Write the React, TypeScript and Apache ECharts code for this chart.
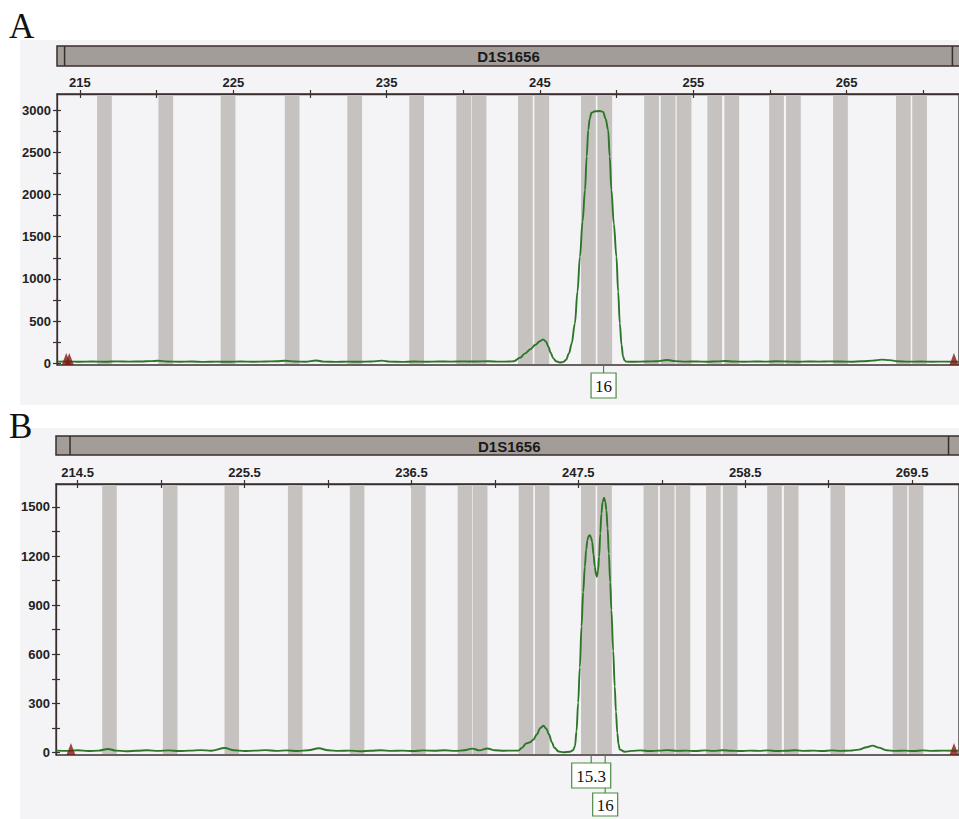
import React, { useEffect, useRef } from "react";
import * as echarts from "echarts";

// ---------- data ----------
const locusName = "D1S1656";
const locusRange = [214.0, 271.9];

const binCenters = [
  216.6, 220.6, 224.66, 228.84, 232.92, 236.96, 240.03, 241.03, 244.05, 245.12,
  248.16, 249.23, 252.28, 253.36, 254.4, 256.4, 257.51, 260.43, 261.53, 264.6,
  268.7, 269.76,
];
const binHalfWidth = 0.48;

const xTicksA = [215, 220, 225, 230, 235, 240, 245, 250, 255, 260, 265, 270];
const xLabelsA = [215, 225, 235, 245, 255, 265];
const yTicksA = [0, 250, 500, 750, 1000, 1250, 1500, 1750, 2000, 2250, 2500, 2750, 3000];
const yLabelsA = [0, 500, 1000, 1500, 2000, 2500, 3000];

const xTicksB = [214.5, 220, 225.5, 231, 236.5, 242, 247.5, 253, 258.5, 264, 269.5];
const xLabelsB = [214.5, 225.5, 236.5, 247.5, 258.5, 269.5];
const yTicksB = [0, 150, 300, 450, 600, 750, 900, 1050, 1200, 1350, 1500];
const yLabelsB = [0, 300, 600, 900, 1200, 1500];

const traceA: number[][] = [
  [213.55, 20], [214.2, 22], [215.0, 18], [215.8, 21], [216.6, 19], [217.4, 23], [218.2, 20],
  [219.0, 22], [219.6, 26], [220.1, 30], [220.7, 22], [221.5, 19], [222.3, 21], [223.1, 17],
  [223.9, 20], [224.7, 18], [225.5, 22], [226.3, 19], [227.1, 21], [227.8, 24], [228.4, 30],
  [229.0, 22], [229.7, 19], [230.4, 34], [230.9, 20], [231.7, 17], [232.5, 20], [233.3, 18],
  [234.0, 21], [234.7, 32], [235.2, 20], [236.0, 17], [236.8, 21], [237.6, 19], [238.4, 22],
  [239.2, 20], [240.0, 23], [240.8, 21], [241.6, 24], [242.4, 20], [243.0, 21], [243.3, 25],
  [243.7, 65], [244.03, 118], [244.4, 170], [244.68, 217], [245.0, 262], [245.22, 284],
  [245.4, 255], [245.55, 197], [245.7, 125], [245.87, 59], [246.05, 25], [246.31, 10],
  [246.5, 14], [246.7, 40], [246.9, 120], [247.07, 236], [247.28, 473], [247.45, 850],
  [247.61, 1263], [247.78, 1680], [247.94, 2052], [248.05, 2450], [248.15, 2763],
  [248.25, 2900], [248.36, 2968], [248.6, 2985], [248.9, 2988], [249.12, 2978],
  [249.28, 2900], [249.45, 2763], [249.55, 2450], [249.66, 2052], [249.82, 1650],
  [249.99, 1263], [250.1, 850], [250.21, 473], [250.32, 220], [250.42, 80], [250.52, 35],
  [250.62, 20], [251.2, 18], [251.9, 21], [252.6, 24], [253.3, 40], [253.8, 26], [254.5, 20],
  [255.2, 22], [255.9, 19], [256.6, 23], [257.1, 28], [257.6, 21], [258.3, 19], [259.0, 22],
  [259.7, 20], [260.4, 24], [261.1, 21], [261.8, 19], [262.5, 22], [263.2, 20], [263.9, 23],
  [264.6, 21], [265.3, 19], [266.0, 24], [266.7, 32], [267.3, 44], [267.8, 38], [268.3, 24],
  [269.0, 20], [269.8, 21], [270.6, 19], [271.4, 20], [272.3, 18],
];

const traceB: number[][] = [
  [213.1, 12], [213.8, 10], [214.5, 14], [215.2, 9], [215.9, 12], [216.5, 22], [217.0, 12],
  [217.7, 8], [218.4, 11], [219.1, 14], [219.8, 10], [220.5, 13], [221.2, 9], [221.9, 12],
  [222.6, 15], [223.3, 11], [224.2, 28], [224.8, 14], [225.5, 9], [226.2, 12], [226.9, 15],
  [227.6, 10], [228.3, 13], [229.0, 9], [229.7, 14], [230.4, 26], [231.0, 14], [231.7, 10],
  [232.4, 12], [233.1, 8], [233.8, 11], [234.5, 14], [235.2, 10], [235.9, 12], [236.6, 9],
  [237.3, 13], [238.0, 11], [238.7, 14], [239.4, 10], [240.0, 14], [240.5, 24], [241.0, 13],
  [241.5, 25], [242.0, 14], [242.6, 11], [243.1, 12], [243.55, 12], [243.8, 30], [244.05, 55],
  [244.32, 63], [244.55, 80], [244.76, 110], [245.0, 150], [245.2, 164], [245.4, 145],
  [245.57, 110], [245.75, 65], [245.92, 29], [246.2, 6], [246.5, 2], [246.95, 5],
  [247.15, 14], [247.28, 38], [247.38, 130], [247.49, 305], [247.6, 520], [247.71, 770],
  [247.82, 980], [247.93, 1135], [248.02, 1240], [248.1, 1297], [248.18, 1322],
  [248.26, 1328], [248.34, 1312], [248.41, 1287], [248.5, 1210], [248.59, 1135],
  [248.66, 1090], [248.72, 1074], [248.8, 1110], [248.87, 1196], [248.95, 1340],
  [249.02, 1460], [249.1, 1530], [249.2, 1557], [249.28, 1530], [249.35, 1480],
  [249.43, 1370], [249.51, 1216], [249.6, 1040], [249.68, 871], [249.8, 620], [249.9, 404],
  [249.98, 250], [250.07, 120], [250.15, 50], [250.23, 18], [250.56, 5], [251.0, 10],
  [251.6, 13], [252.2, 9], [252.8, 12], [253.4, 15], [254.0, 10], [254.6, 12], [255.2, 9],
  [255.8, 13], [256.4, 10], [257.0, 14], [257.6, 11], [258.2, 9], [258.8, 12], [259.4, 10],
  [260.0, 13], [260.6, 9], [261.2, 11], [261.8, 14], [262.4, 10], [263.0, 12], [263.6, 9],
  [264.2, 13], [264.8, 10], [265.4, 12], [266.0, 18], [266.5, 32], [266.9, 42], [267.3, 30],
  [267.8, 14], [268.4, 10], [269.0, 12], [269.6, 9], [270.2, 13], [270.8, 10], [271.5, 12],
  [272.55, 11],
];

const allelesA = [{ label: "16", size: 249.15 }];
const allelesB = [
  { label: "15.3", size: 248.35 },
  { label: "16", size: 249.27 },
];

const markersA = [[214.11, -20], [214.31, -20], [272.0, -20]];
const markersB = [[214.06, -15], [272.26, -15]];

// ---------- styles ----------
const AXIS_COLOR = "#3a3030";
const TEXT_COLOR = "#222";
const BIN_COLOR = "#c5c2bf";
const TRACE_COLOR = "#2d7627";
const TINT = "#f4f3f6";
const SANS = '"Liberation Sans", Arial, sans-serif';
const SERIF = '"Liberation Serif", "Times New Roman", serif';

const panels = [
  {
    grid: { left: 57, top: 94, right: -3, height: 271 },
    xMin: 213.505, xMax: 272.33, yMin: -20, yMax: 3190,
    xTicks: xTicksA, xLabels: xLabelsA, yTicks: yTicksA, yLabels: yLabelsA,
    trace: traceA, markers: markersA, alleles: allelesA,
  },
  {
    grid: { left: 56, top: 484, right: -3, height: 271 },
    xMin: 213.075, xMax: 272.59, yMin: -15, yMax: 1640,
    xTicks: xTicksB, xLabels: xLabelsB, yTicks: yTicksB, yLabels: yLabelsB,
    trace: traceB, markers: markersB, alleles: allelesB,
  },
];

function fmt(v: number) {
  return String(v);
}

export default function App() {
  const ref = useRef<HTMLDivElement>(null);

  useEffect(() => {
    const chart = echarts.init(ref.current!, null, { renderer: "svg" });

    const grids: any[] = [];
    const xAxes: any[] = [];
    const yAxes: any[] = [];
    const series: any[] = [];

    panels.forEach((p, i) => {
      grids.push({
        ...p.grid,
        show: true,
        borderColor: AXIS_COLOR,
        borderWidth: 1.3,
        backgroundColor: "transparent",
      });
      xAxes.push({
        type: "value",
        gridIndex: i,
        position: "top",
        min: p.xMin,
        max: p.xMax,
        axisLine: { show: true, onZero: false, lineStyle: { color: AXIS_COLOR, width: 1.3 } },
        axisTick: { show: true, length: 4, inside: false, customValues: p.xTicks, lineStyle: { color: AXIS_COLOR, width: 1.2 } },
        axisLabel: {
          show: true, customValues: p.xLabels, margin: 5, color: TEXT_COLOR,
          fontFamily: SANS, fontSize: 13, fontWeight: "bold", formatter: fmt,
        },
        splitLine: { show: false },
      });
      xAxes.push({
        type: "value",
        gridIndex: i,
        position: "top",
        min: p.xMin,
        max: p.xMax,
        axisLine: { show: false, onZero: false },
        axisTick: { show: true, length: 4, inside: true, customValues: p.xTicks, lineStyle: { color: AXIS_COLOR, width: 1.2 } },
        axisLabel: { show: false },
        splitLine: { show: false },
      });
      yAxes.push({
        type: "value",
        gridIndex: i,
        position: "left",
        min: p.yMin,
        max: p.yMax,
        axisLine: { show: true, onZero: false, lineStyle: { color: AXIS_COLOR, width: 1.3 } },
        axisTick: { show: true, length: 4, inside: false, customValues: p.yTicks, lineStyle: { color: AXIS_COLOR, width: 1.2 } },
        axisLabel: {
          show: true, customValues: p.yLabels, margin: 6, color: TEXT_COLOR,
          fontFamily: SANS, fontSize: 13, fontWeight: "bold", formatter: fmt,
        },
        splitLine: { show: false },
      });
      yAxes.push({
        type: "value",
        gridIndex: i,
        position: "left",
        min: p.yMin,
        max: p.yMax,
        axisLine: { show: false, onZero: false },
        axisTick: { show: true, length: 4, inside: true, customValues: p.yTicks, lineStyle: { color: AXIS_COLOR, width: 1.2 } },
        axisLabel: { show: false },
        splitLine: { show: false },
      });

      series.push({
        type: "custom",
        xAxisIndex: i * 2,
        yAxisIndex: i * 2,
        z: 1,
        silent: true,
        clip: true,
        data: binCenters.map((c) => [c]),
        renderItem: (params: any, api: any) => {
          const c = api.value(0);
          const cs = params.coordSys;
          const x0 = api.coord([c - binHalfWidth, 0])[0];
          const x1 = api.coord([c + binHalfWidth, 0])[0];
          return {
            type: "rect",
            shape: { x: x0, y: cs.y + 1, width: x1 - x0, height: cs.height - 2 },
            style: { fill: BIN_COLOR },
          };
        },
      });

      series.push({
        type: "line",
        xAxisIndex: i * 2,
        yAxisIndex: i * 2,
        z: 3,
        data: p.trace,
        showSymbol: false,
        smooth: 0.35,
        smoothMonotone: "x",
        lineStyle: { color: TRACE_COLOR, width: 1.9 },
        silent: true,
      });

      series.push({
        type: "scatter",
        xAxisIndex: i * 2,
        yAxisIndex: i * 2,
        z: 4,
        data: p.markers,
        symbol: "triangle",
        symbolSize: [9, 12],
        symbolOffset: [0, -6],
        itemStyle: { color: "#7a1d14" },
        silent: true,
      });
    });

    chart.setOption({
      animation: false,
      backgroundColor: "#ffffff",
      grid: grids,
      xAxis: xAxes,
      yAxis: yAxes,
      series,
    });

    const g: any[] = [];
    g.push({ type: "rect", z: -10, silent: true, shape: { x: 20, y: 40, width: 945, height: 365 }, style: { fill: TINT } });
    g.push({ type: "rect", z: -10, silent: true, shape: { x: 20, y: 428, width: 945, height: 395 }, style: { fill: TINT } });

    g.push({ type: "text", z: 20, x: 9, y: 26, style: { text: "A", fontFamily: SERIF, fontSize: 35, fill: "#111", verticalAlign: "middle" } });
    g.push({ type: "text", z: 20, x: 9, y: 426, style: { text: "B", fontFamily: SERIF, fontSize: 35, fill: "#111", verticalAlign: "middle" } });

    panels.forEach((p, i) => {
      const top = p.grid.top;
      const bottom = p.grid.top + p.grid.height;
      const left = p.grid.left;
      const px = (v: number) => chart.convertToPixel({ gridIndex: i }, [v, 0])[0];

      const barTop = top - 48;
      const barH = i === 0 ? 20 : 19;
      const l0 = px(locusRange[0]);
      const l1 = px(locusRange[1]);
      g.push({ type: "rect", z: 10, shape: { x: left, y: barTop, width: 962 - left, height: barH }, style: { fill: "#a29d98", stroke: "#3a2e2c", lineWidth: 1.5 } });
      g.push({ type: "line", z: 11, shape: { x1: l0, y1: barTop, x2: l0, y2: barTop + barH }, style: { stroke: "#3a2e2c", lineWidth: 1.5 } });
      g.push({ type: "line", z: 11, shape: { x1: l1, y1: barTop, x2: l1, y2: barTop + barH }, style: { stroke: "#3a2e2c", lineWidth: 1.5 } });
      g.push({
        type: "text", z: 12, x: (l0 + l1) / 2, y: barTop + barH / 2 + 0.5,
        style: { text: locusName, fontFamily: SANS, fontSize: 15, fontWeight: "bold", fill: "#1a1a1a", align: "center", verticalAlign: "middle" },
      });

      const boxes: any[] = [];
      const lines: any[] = [];
      const texts: any[] = [];
      p.alleles.forEach((a, k) => {
        const cx = px(a.size);
        const boxTop = bottom + 8 + k * 30;
        const boxH = k === 0 ? 25 : 23;
        const w = a.label.length > 2 ? 39 : 25;
        lines.push({ type: "line", z: 13, shape: { x1: cx, y1: bottom, x2: cx, y2: boxTop }, style: { stroke: "#4b8b45", lineWidth: 1.2 } });
        boxes.push({ type: "rect", z: 14, shape: { x: cx - w / 2, y: boxTop, width: w, height: boxH }, style: { fill: "#ffffff", stroke: "#4b8b45", lineWidth: 1.2 } });
        texts.push({
          type: "text", z: 15, x: cx, y: boxTop + boxH / 2 + 1,
          style: { text: a.label, fontFamily: SERIF, fontSize: 17, fill: "#111", align: "center", verticalAlign: "middle" },
        });
      });
      g.push(...lines, ...boxes, ...texts);
    });

    chart.setOption({ graphic: g });

    return () => chart.dispose();
  }, []);

  return (
    <div
      ref={ref}
      style={{ position: "fixed", left: 0, top: 0, width: 959, height: 819, background: "#fff" }}
    />
  );
}
